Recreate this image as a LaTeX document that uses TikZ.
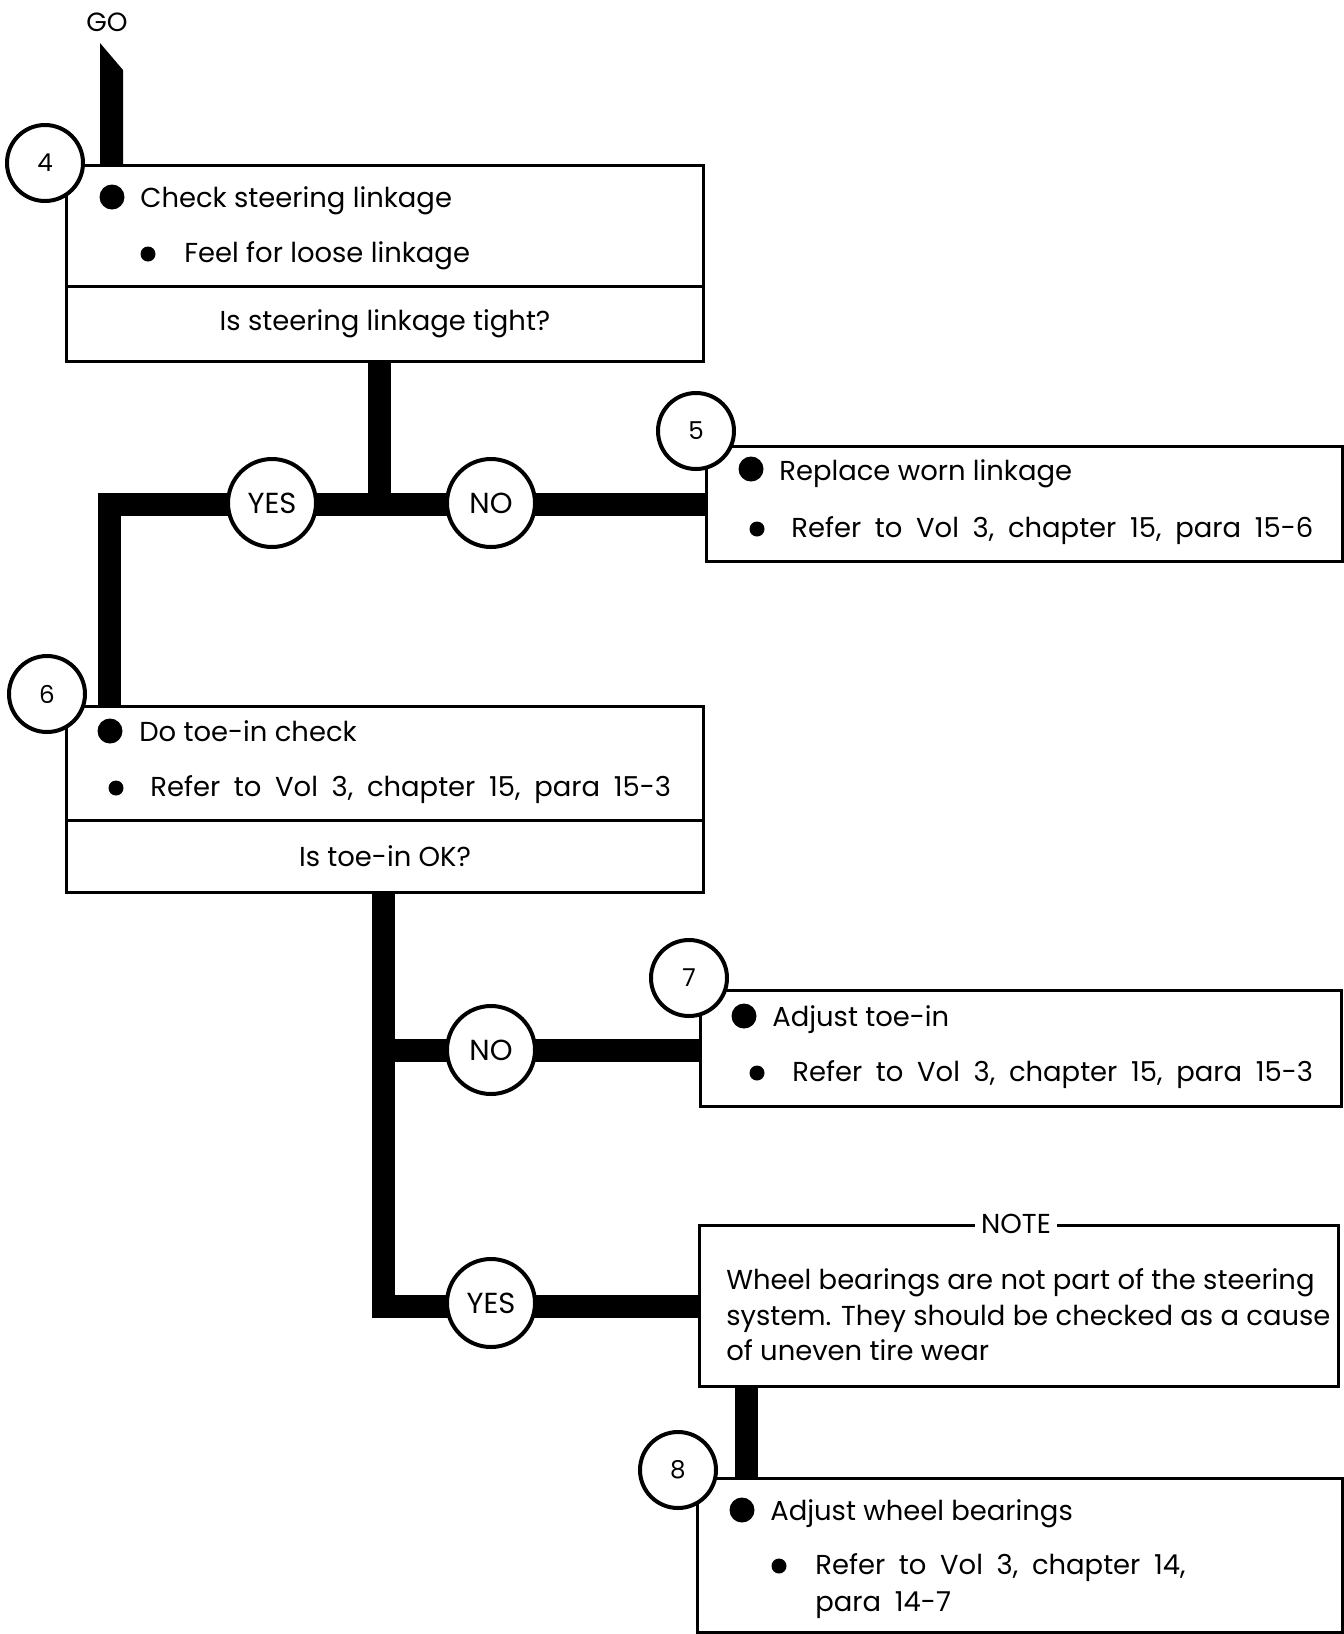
\documentclass[tikz,border=0pt]{standalone}
\usepackage{fontspec}
\setmainfont{Poppins}
\usetikzlibrary{positioning}
\newcommand{\widespaces}{\spaceskip 0.5em plus 0.1em\relax}

\begin{document}
\begin{tikzpicture}[
  x=0.2mm, y=-0.2mm,
  box/.style={draw, line width=0.6mm, fill=white, anchor=north west, inner sep=0pt, minimum width=127.4mm, font=\fontsize{15.6}{18}\selectfont},
  txt/.style={anchor=base west, inner sep=0pt, font=\fontsize{15.6}{18}\selectfont},
  reftxt/.style={txt, font=\fontsize{15.6}{18}\selectfont\widespaces},
  num/.style={circle, draw, line width=0.8mm, fill=white, minimum size=15.2mm, inner sep=0pt, font=\fontsize{14}{16}\selectfont},
  ans/.style={circle, draw, line width=0.8mm, fill=white, minimum size=17.6mm, inner sep=0pt, font=\fontsize{16.5}{18}\selectfont},
  bigdot/.style={circle, fill, minimum size=5mm, inner sep=0pt},
  smalldot/.style={circle, fill, minimum size=3mm, inner sep=0pt},
  flow/.style={line width=4.6mm}
]
  \useasboundingbox (0,0) rectangle (1344,1634);

  % junctions of the flow lines
  \coordinate (j1) at (379,503);
  \coordinate (c6) at (109,705);
  \coordinate (j2) at (383,1050);
  \coordinate (c8) at (746,1400);

  \node[font=\fontsize{15}{17}\selectfont] (go) at (107,22) {GO};
  \fill (100,43) -- (123,70) -- (123,164) -- (100,164) -- cycle;

  \node[box, minimum height=24.2mm] (act4) at (65,164) {};
  \node[box, minimum height=15mm] (q4) at (65,285) {Is steering linkage tight?};
  \node[box, minimum width=127.2mm, minimum height=23mm] (act5) at (705,445) {};
  \node[box, minimum height=22.8mm] (act6) at (65,705) {};
  \node[box, minimum height=14.4mm] (q6) at (65,819) {Is toe-in OK?};
  \node[box, minimum width=128.2mm, minimum height=23.2mm] (act7) at (699,989) {};
  \node[box, minimum width=127.8mm, minimum height=32.2mm] (note) at (698,1224) {};
  \node[box, minimum width=129mm, minimum height=30.8mm] (act8) at (696,1477) {};

  % flow lines
  \draw[flow] (q4.south -| j1) -- (j1);
  \draw[flow] (c6) |- (act5.west);
  \draw[flow] (q6.south -| j2) |- (note.west);
  \draw[flow] (j2) -- (j2 -| act7.west);
  \draw[flow] (note.south -| c8) -- (act8.north -| c8);

  % box texts
  \node[bigdot] (d4a) at (112,197) {};
  \node[txt] (t4a) at (140,207) {Check steering linkage};
  \node[smalldot] (d4b) at (148,254) {};
  \node[txt] (t4b) at (184,262) {Feel for loose linkage};

  \node[bigdot] (d5a) at (751,469) {};
  \node[txt] (t5a) at (779,480) {Replace worn linkage};
  \node[smalldot] (d5b) at (757,529) {};
  \node[reftxt] (t5b) at (791,537) {Refer to Vol 3, chapter 15, para 15-6};

  \node[bigdot] (d6a) at (110,731) {};
  \node[txt] (t6a) at (139,741) {Do toe-in check};
  \node[smalldot] (d6b) at (116,788) {};
  \node[reftxt] (t6b) at (150,796) {Refer to Vol 3, chapter 15, para 15-3};

  \node[bigdot] (d7a) at (744,1016) {};
  \node[txt] (t7a) at (772,1026) {Adjust toe-in};
  \node[smalldot] (d7b) at (757,1073) {};
  \node[reftxt] (t7b) at (792,1081) {Refer to Vol 3, chapter 15, para 15-3};

  \node[fill=white, inner xsep=1.2mm, inner ysep=0.5mm, font=\fontsize{15.6}{18}\selectfont] (notehead) at (1016,1224) {NOTE};
  \node[txt] (n1) at (726,1289) {Wheel bearings are not part of the steering};
  \node[txt] (n2) at (726,1325) {system. They should be checked as a cause};
  \node[txt] (n3) at (726,1360) {of uneven tire wear};

  \node[bigdot] (d8a) at (742,1510) {};
  \node[txt] (t8a) at (770,1520) {Adjust wheel bearings};
  \node[smalldot] (d8b) at (779,1566) {};
  \node[reftxt] (t8b) at (815,1574) {Refer to Vol 3, chapter 14,};
  \node[reftxt] (t8c) at (815,1611) {para 14-7};

  % step numbers
  \node[num] (s4) at (45,163) {4};
  \node[num] (s5) at (696,431) {5};
  \node[num] (s6) at (47,694) {6};
  \node[num] (s7) at (689,978) {7};
  \node[num] (s8) at (678,1470) {8};

  % answers
  \node[ans] (yes1) at (272,503) {YES};
  \node[ans] (no1) at (491,503) {NO};
  \node[ans] (no2) at (491,1050) {NO};
  \node[ans] (yes2) at (491,1303) {YES};
\end{tikzpicture}
\end{document}
